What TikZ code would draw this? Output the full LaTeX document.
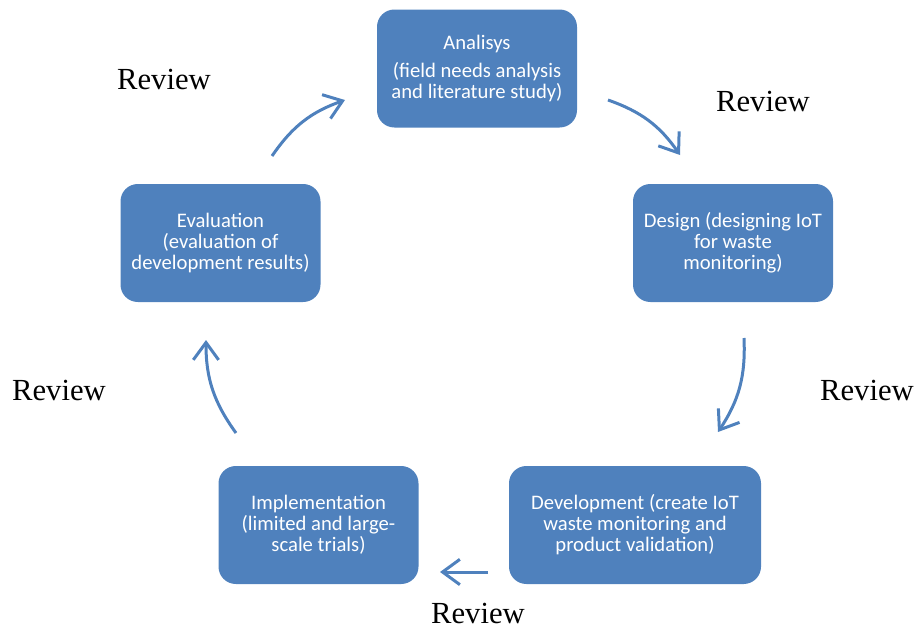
\documentclass[tikz,border=0pt]{standalone}
\usepackage{fontspec}
\setmainfont{Carlito}
\newfontfamily\revfont{Liberation Serif}
\usetikzlibrary{arrows.meta}
\definecolor{obox}{HTML}{4F81BD}
\begin{document}
\begin{tikzpicture}[x=0.75pt,y=-0.75pt,
  stepbox/.style={draw=none,fill=obox,rounded corners=13pt,minimum width=150pt,minimum height=88.5pt,
    text=white,align=center,font=\fontsize{15.5}{15.8}\selectfont,inner sep=2pt},
  revlabel/.style={font=\revfont\fontsize{23}{26}\selectfont,text=black,inner sep=0pt},
  cyc/.style={draw=obox,line width=2.25pt,-{Straight Barb[length=13pt,width=19pt,line width=2.25pt]}}]
\useasboundingbox (0,0) rectangle (917,628);
\node[stepbox] (an) at (477,68.5) {Analisys\\[5pt](field needs analysis\\and literature study)};
\node[stepbox] (de) at (733,243) {Design (designing IoT\\for waste\\monitoring)};
\node[stepbox,minimum width=189pt] (dv) at (635,525) {Development (create IoT\\waste monitoring and\\product validation)};
\node[stepbox] (im) at (318.5,525) {Implementation\\(limited and large-\\scale trials)};
\node[stepbox] (ev) at (220.5,243) {Evaluation\\(evaluation of\\development results)};
\node[revlabel] (r1) at (164,79) {Review};
\node[revlabel] (r2) at (763,101) {Review};
\node[revlabel] (r3) at (867,390) {Review};
\node[revlabel] (r4) at (59,390) {Review};
\node[revlabel] (r5) at (478,613) {Review};
\coordinate (a1s) at (272,156); \coordinate (a1e) at (345,100);
\coordinate (a2s) at (608,100); \coordinate (a2e) at (680,155);
\coordinate (a3s) at (744,338); \coordinate (a3e) at (718,432);
\coordinate (a4s) at (488,572); \coordinate (a4e) at (440,572);
\coordinate (a5s) at (236,433); \coordinate (a5e) at (206,340);
\draw[cyc] (a1s) to[bend left=18] (a1e);
\draw[cyc] (a2s) to[bend left=18] (a2e);
\draw[cyc] (a3s) to[bend left=18] (a3e);
\draw[cyc] (a4s) -- (a4e);
\draw[cyc] (a5s) to[bend left=18] (a5e);
\end{tikzpicture}
\end{document}
